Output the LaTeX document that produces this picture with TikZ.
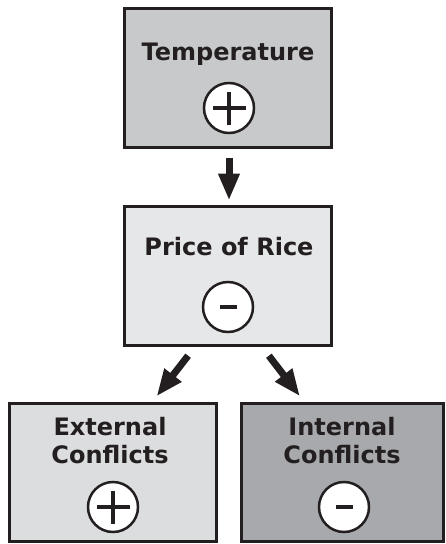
\documentclass[tikz,border=0pt]{standalone}
\usepackage{fontspec}
\setmainfont{DejaVu Sans}
\usetikzlibrary{arrows.meta}
\definecolor{edge}{HTML}{231F20}
\definecolor{fillA}{HTML}{C8C9CB}
\definecolor{fillB}{HTML}{E6E7E8}
\definecolor{fillC}{HTML}{DCDDDE}
\definecolor{fillD}{HTML}{A7A9AC}
\tikzset{
  box/.style={draw=edge, line width=3pt, minimum width=207pt, minimum height=139pt, inner sep=0pt, outer sep=0pt},
  title/.style={font=\fontsize{24}{28}\selectfont\bfseries, text=edge, anchor=base, inner sep=0pt, align=center},
  sign/.style={circle, draw=edge, fill=white, line width=2.5pt, minimum size=50pt, inner sep=0pt},
  link/.style={draw=edge, line width=7pt, -{Triangle[length=27pt,width=20pt]}},
}
\begin{document}
\begin{tikzpicture}[x=1pt,y=-1pt]
\useasboundingbox (0,0) rectangle (446,544);
% boxes
\node[box, fill=fillA] (temp) at (228,78) {};
\node[box, fill=fillB] (rice) at (228,276) {};
\node[box, fill=fillC, minimum height=138pt] (ext) at (113,472.5) {};
\node[box, fill=fillD, minimum height=138pt, minimum width=202pt] (int) at (342.5,472.5) {};
% titles
\node[title] (ttemp) at (228,60) {Temperature};
\node[title] (trice) at (229,255) {Price of Rice};
\node[title] (text1) at (110,435) {External};
\node[title] (text2) at (110,463) {Conflicts};
\node[title] (tint1) at (342,435) {Internal};
\node[title] (tint2) at (342,463) {Conflicts};
% signs
\node[sign] (stemp) at (229,108) {};
\node[sign] (srice) at (228,307) {};
\node[sign] (sext) at (113,507) {};
\node[sign] (sint) at (344,507) {};
\foreach \s in {stemp,sext}{
  \fill[edge] ([xshift=-16.5pt,yshift=-1.75pt]\s.center) rectangle ([xshift=16.5pt,yshift=1.75pt]\s.center);
  \fill[edge] ([xshift=-1.75pt,yshift=-16.5pt]\s.center) rectangle ([xshift=1.75pt,yshift=16.5pt]\s.center);
}
\foreach \s in {srice,sint}{
  \fill[edge] ([xshift=-8.5pt,yshift=-2.25pt]\s.center) rectangle ([xshift=8.5pt,yshift=2.25pt]\s.center);
}
% arrows
\draw[link, shorten <=10pt, shorten >=6pt] ([xshift=1pt]temp.south) -- ([xshift=1pt]rice.north);
\draw[link, shorten <=12.9pt, shorten >=9pt] ([xshift=-32pt]rice.south) -- ([xshift=38pt]ext.north);
\draw[link, shorten <=12.9pt, shorten >=9pt] ([xshift=33pt]rice.south) -- ([xshift=-37pt]int.north);
\end{tikzpicture}
\end{document}
